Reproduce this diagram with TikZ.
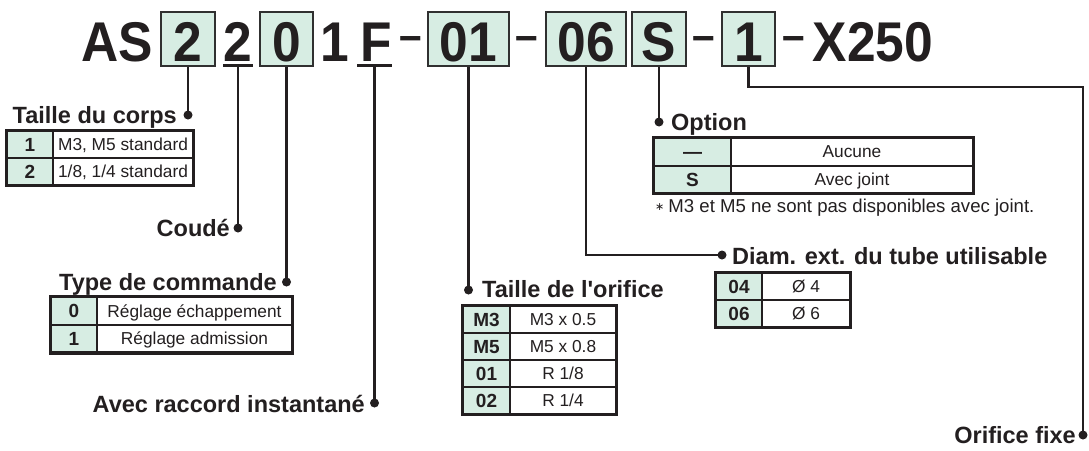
\documentclass[tikz,border=0pt]{standalone}
\usepackage{fontspec}
\setmainfont{Liberation Sans}
\newfontfamily\titlefont[FakeStretch=0.92]{Liberation Sans}
\newfontfamily\symfont{DejaVu Sans}
\definecolor{ink}{HTML}{231F20}
\definecolor{mint}{HTML}{D7EDE3}
\definecolor{boxline}{HTML}{303030}
\tikzset{
  codebox/.style={draw=boxline, fill=mint, line width=2.2pt, minimum height=54pt, inner sep=0pt},
  titletxt/.style={font=\titlefont\bfseries\fontsize{56}{56}\selectfont, inner sep=0pt, anchor=base},
  dashtxt/.style={font=\titlefont\bfseries\fontsize{44}{44}\selectfont, inner sep=0pt, anchor=base},
  uline/.style={fill=ink, inner sep=0pt, minimum height=3pt},
  lbl/.style={font=\bfseries\fontsize{23.5}{24}\selectfont, inner sep=0pt},
  dotnode/.style={circle, fill=ink, inner sep=0pt, minimum size=9pt},
  conn/.style={line width=2.7pt},
  keycell/.style={draw=ink, fill=mint, line width=2pt, inner sep=0pt,
    font=\bfseries\fontsize{19}{19}\selectfont, text height=13.7pt, text depth=0pt},
  valcell/.style={draw=ink, fill=white, line width=2pt, inner sep=0pt,
    font=\fontsize{17.3}{17.3}\selectfont, text height=12.4pt, text depth=0pt},
  tframe/.style={draw=ink, line width=2.8pt},
  note/.style={font=\fontsize{18.6}{18.6}\selectfont, inner sep=0pt, anchor=base west}
}
\begin{document}
\begin{tikzpicture}[x=1pt,y=-1pt,color=ink]
\useasboundingbox (0,0) rectangle (1089,450);
\fill[white] (0,0) rectangle (1089,450);

% ---- title code ----
\node[titletxt] (tAS) at (117,61) {AS};
\node[codebox, minimum width=54pt] (c1) at (188,39) {};
\node[titletxt] (t1) at (188,61) {2};
\node[titletxt] (t2) at (238,61) {2};
\node[uline, minimum width=30pt] (u2) at (238,65.5) {};
\node[codebox, minimum width=53pt] (c3) at (286.5,39) {};
\node[titletxt] (t3) at (286.5,61) {0};
\node[titletxt] (t4) at (335,61) {1};
\node[titletxt] (t5) at (376,61) {F};
\node[uline, minimum width=35pt] (u5) at (374.5,65.5) {};
\node[dashtxt] (h1) at (410.5,50) {–};
\node[codebox, minimum width=81pt] (c6) at (468.5,39) {};
\node[titletxt] (t6) at (468.5,61) {01};
\node[dashtxt] (h2) at (527,50) {–};
\node[codebox, minimum width=80pt] (c7) at (586,39) {};
\node[titletxt] (t7) at (586,61) {06};
\node[codebox, minimum width=54pt] (c8) at (659,39) {};
\node[titletxt] (t8) at (659,61) {S};
\node[dashtxt] (h3) at (704,50) {–};
\node[codebox, minimum width=53pt] (c9) at (748.5,39) {};
\node[titletxt] (t9) at (748.5,61) {1};
\node[dashtxt] (h4) at (794,50) {–};
\node[titletxt] (t10) at (873,61) {X250};

% ---- dots ----
\node[dotnode] (d1) at (188,115) {};
\node[dotnode] (d2) at (238,228) {};
\node[dotnode] (d3) at (286.5,282) {};
\node[dotnode] (d4) at (374.5,403) {};
\node[dotnode] (d5) at (468.5,290) {};
\node[dotnode] (d6) at (722,255) {};
\node[dotnode] (d7) at (659,122) {};
\node[dotnode] (d8) at (1083,435) {};
\coordinate (k8) at (1083,87);

% ---- connectors ----
\draw[conn] (c1.south) -- (d1.center);
\draw[conn] (u2.south) -- (d2.center);
\draw[conn] (c3.south) -- (d3.center);
\draw[conn] (u5.south) -- (d4.center);
\draw[conn] (c6.south) -- (d5.center);
\draw[conn] (c7.south) |- (d6.center);
\draw[conn] (c8.south) -- (d7.center);
\draw[conn] (c9.south) |- (k8) -- (d8.center);

% ---- labels ----
\node[lbl, anchor=base east] (l1) at (177,123) {Taille du corps};
\node[lbl, anchor=base east] (l2) at (230,236) {Coudé};
\node[lbl, anchor=base east] (l3) at (277,290) {Type de commande};
\node[lbl, anchor=base east] (l4) at (365,412) {Avec raccord instantané};
\node[lbl, anchor=base west] (l5) at (482,297) {Taille de l\textquotesingle orifice};
\node[lbl, anchor=base west] (l7) at (671,130) {Option};
\node[lbl, anchor=base west] (l6) at (732,264) {Diam. ext. du tube utilisable};
\node[lbl, anchor=base east] (l8) at (1076,443.5) {Orifice fixe};

% ---- table: Taille du corps ----
\node[keycell, minimum width=46pt, minimum height=27pt] (a1k) at (30,144.5) {1};
\node[valcell, minimum width=140pt, minimum height=27pt] (a1v) at (123,144.5) {M3, M5 standard};
\node[keycell, minimum width=46pt, minimum height=27pt] (a2k) at (30,171.5) {2};
\node[valcell, minimum width=140pt, minimum height=27pt] (a2v) at (123,171.5) {1/8, 1/4 standard};
\draw[tframe] (a1k.north west) rectangle (a2v.south east);

% ---- table: Type de commande ----
\node[keycell, minimum width=46pt, minimum height=27.5pt] (b1k) at (74,311) {0};
\node[valcell, minimum width=195pt, minimum height=27.5pt] (b1v) at (194.5,311) {Réglage échappement};
\node[keycell, minimum width=46pt, minimum height=27.5pt] (b2k) at (74,338.5) {1};
\node[valcell, minimum width=195pt, minimum height=27.5pt] (b2v) at (194.5,338.5) {Réglage admission};
\draw[tframe] (b1k.north west) rectangle (b2v.south east);

% ---- table: Taille de l'orifice ----
\node[keycell, minimum width=47pt, minimum height=27pt] (e1k) at (486.5,319.5) {M3};
\node[valcell, minimum width=106pt, minimum height=27pt] (e1v) at (563,319.5) {M3 x 0.5};
\node[keycell, minimum width=47pt, minimum height=27pt] (e2k) at (486.5,346.5) {M5};
\node[valcell, minimum width=106pt, minimum height=27pt] (e2v) at (563,346.5) {M5 x 0.8};
\node[keycell, minimum width=47pt, minimum height=27pt] (e3k) at (486.5,373.5) {01};
\node[valcell, minimum width=106pt, minimum height=27pt] (e3v) at (563,373.5) {R 1/8};
\node[keycell, minimum width=47pt, minimum height=27pt] (e4k) at (486.5,400.5) {02};
\node[valcell, minimum width=106pt, minimum height=27pt] (e4v) at (563,400.5) {R 1/4};
\draw[tframe] (e1k.north west) rectangle (e4v.south east);

% ---- table: Option ----
\node[keycell, minimum width=77pt, minimum height=27.5pt] (f1k) at (692.5,151.75) {—};
\node[valcell, minimum width=242pt, minimum height=27.5pt] (f1v) at (852,151.75) {Aucune};
\node[keycell, minimum width=77pt, minimum height=27.5pt] (f2k) at (692.5,179.25) {S};
\node[valcell, minimum width=242pt, minimum height=27.5pt] (f2v) at (852,179.25) {Avec joint};
\draw[tframe] (f1k.north west) rectangle (f2v.south east);
\node[note] (fn) at (655,212) {{\symfont\fontsize{11}{11}\selectfont\raisebox{2pt}{∗}}\hspace{4pt}M3 et M5 ne sont pas disponibles avec joint.};

% ---- table: Diam. ext. ----
\node[keycell, minimum width=46pt, minimum height=27pt] (g1k) at (739,286.5) {04};
\node[valcell, minimum width=88pt, minimum height=27pt] (g1v) at (806,286.5) {Ø 4};
\node[keycell, minimum width=46pt, minimum height=27pt] (g2k) at (739,313.5) {06};
\node[valcell, minimum width=88pt, minimum height=27pt] (g2v) at (806,313.5) {Ø 6};
\draw[tframe] (g1k.north west) rectangle (g2v.south east);
\end{tikzpicture}
\end{document}
